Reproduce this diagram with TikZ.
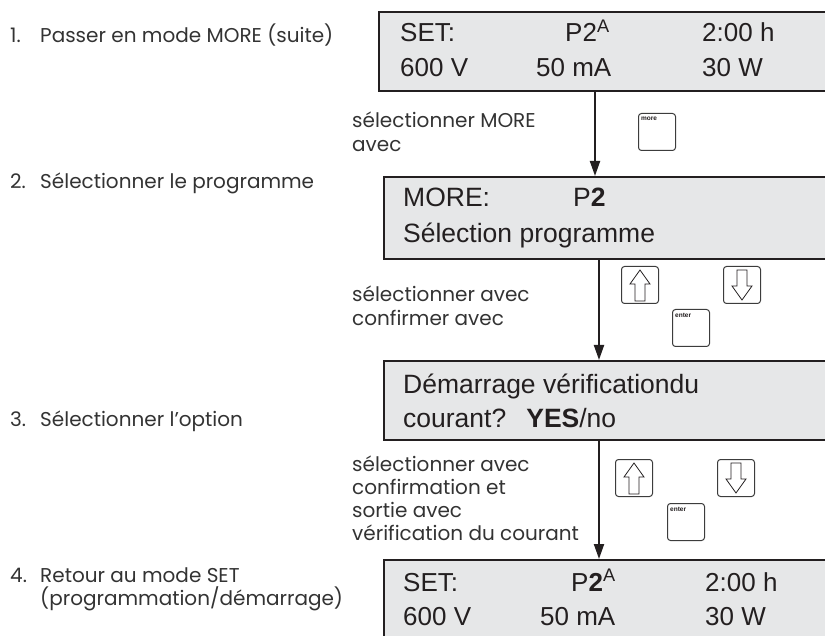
\documentclass[tikz,border=0pt]{standalone}
\usepackage{fontspec}
\setmainfont{Poppins}
\newfontfamily\lcdfont{Liberation Sans}
\usetikzlibrary{arrows.meta}
\definecolor{lcdgray}{HTML}{E6E7E8}
\definecolor{ink}{HTML}{231F20}
\definecolor{labelink}{HTML}{333333}
\definecolor{keyedge}{HTML}{3C3C3C}
\tikzset{
  lcdbox/.style={draw=ink, line width=2.4pt, fill=lcdgray, rectangle,
    anchor=north west, inner sep=0pt, minimum width=460pt},
  lcdtext/.style={anchor=base west, inner sep=0pt, text=ink,
    font=\lcdfont\fontsize{26}{30}\selectfont},
  lcdline/.style={lcdtext, font=\lcdfont\fontsize{26.5}{30}\selectfont},
  steplabel/.style={anchor=base west, inner sep=0pt, text=labelink,
    font=\fontsize{20}{23.3}\selectfont},
  flow/.style={draw=ink, line width=2pt,
    -{Triangle[length=15pt,width=10pt]}},
  keycap/.style={draw=keyedge, line width=1pt, fill=white, rounded corners=3pt,
    anchor=north west, minimum width=37pt, minimum height=37pt, inner sep=0pt},
  keytext/.style={anchor=north west, inner sep=0pt, text=ink,
    font=\lcdfont\bfseries\fontsize{6.5}{7}\selectfont},
  glyph/.style={draw=ink, line width=0.8pt, fill=white, line join=miter}
}
% hollow block arrows drawn inside the cursor keys
\newcommand{\uparrowkey}[1]{%
  \draw[glyph] ([shift={(19,4)}]#1.north west) -- ++(10,14) -- ++(-5,0) -- ++(0,17)
    -- ++(-10,0) -- ++(0,-17) -- ++(-5,0) -- cycle;}
\newcommand{\downarrowkey}[1]{%
  \draw[glyph] ([shift={(19,34)}]#1.north west) -- ++(10,-14) -- ++(-5,0) -- ++(0,-16)
    -- ++(-10,0) -- ++(0,16) -- ++(-5,0) -- cycle;}
\begin{document}
\begin{tikzpicture}[x=1pt,y=-1pt]
\useasboundingbox (0,0) rectangle (825,636);
\clip (0,0) rectangle (825,636);

% ---- step labels on the left
\node[steplabel] (n1) at (10,43) {1.};
\node[steplabel] (s1) at (40,43) {Passer en mode MORE (suite)};
\node[steplabel] (n2) at (10,189) {2.};
\node[steplabel] (s2) at (40,189) {Sélectionner le programme};
\node[steplabel] (n3) at (10,426) {3.};
\node[steplabel] (s3) at (40,426) {Sélectionner l’option};
\node[steplabel] (n4) at (10,582) {4.};
\node[steplabel] (s4) at (40,582) {\vtop{\hbox{Retour au mode SET}\hbox{(programmation/démarrage)}}};

% ---- display 1
\node[lcdbox, minimum height=79pt] (d1) at (378,11) {};
\node[lcdtext] (d1a) at (400,42) {SET:};
\node[lcdtext] (d1b) at (565,42) {P2\textsuperscript{A}};
\node[lcdtext] (d1c) at (702,42) {2:00 h};
\node[lcdtext] (d1d) at (400,77) {600 V};
\node[lcdtext] (d1e) at (536,77) {50 mA};
\node[lcdtext] (d1f) at (702,77) {30 W};

% ---- display 2
\node[lcdbox, minimum height=82pt] (d2) at (383,176) {};
\node[lcdline] (d2a) at (403,207) {MORE:};
\node[lcdline] (d2b) at (573,207) {P\textbf{2}};
\node[lcdline] (d2c) at (403,243) {Sélection programme};

% ---- display 3
\node[lcdbox, minimum height=79pt] (d3) at (383,360) {};
\node[lcdline] (d3a) at (403,394) {Démarrage vérificationdu};
\node[lcdline] (d3b) at (403,428) {courant?\hspace{20pt}\textbf{YES}/no};

% ---- display 4
\node[lcdbox, minimum height=90pt] (d4) at (383,559) {};
\node[lcdtext] (d4a) at (403,591) {SET:};
\node[lcdtext] (d4b) at (571,591) {P\textbf{2}\textsuperscript{A}};
\node[lcdtext] (d4c) at (705,591) {2:00 h};
\node[lcdtext] (d4d) at (403,625) {600 V};
\node[lcdtext] (d4e) at (540,625) {50 mA};
\node[lcdtext] (d4f) at (705,625) {30 W};

% ---- transitions
\coordinate (x1) at (595,0);
\coordinate (x2) at (599,0);
\draw[flow] (x1 |- d1.south) -- (x1 |- d2.north);
\draw[flow] (x2 |- d2.south) -- (x2 |- d3.north);
\draw[flow] (x2 |- d3.south) -- (x2 |- d4.north);

% ---- instructions beside the arrows
\node[steplabel] (t1) at (352,128) {\vtop{\hbox{sélectionner MORE}\hbox{avec}}};
\node[steplabel] (t2) at (352,302) {\vtop{\hbox{sélectionner avec}\hbox{confirmer avec}}};
\node[steplabel] (t3) at (352,471) {\vtop{\hbox{sélectionner avec}\hbox{confirmation et}\hbox{sortie avec}\hbox{vérification du courant}}};

% ---- keys
\node[keycap] (kmore) at (638,113) {};
\node[keytext] at ([shift={(3,4)}]kmore.north west) {more};

\node[keycap] (kup2) at (621,266) {};
\uparrowkey{kup2}
\node[keycap] (kdn2) at (723,266) {};
\downarrowkey{kdn2}
\node[keycap] (ken2) at (672,309) {};
\node[keytext] at ([shift={(3,4)}]ken2.north west) {enter};

\node[keycap] (kup3) at (615,459) {};
\uparrowkey{kup3}
\node[keycap] (kdn3) at (717,459) {};
\downarrowkey{kdn3}
\node[keycap] (ken3) at (667,503) {};
\node[keytext] at ([shift={(3,4)}]ken3.north west) {enter};
\end{tikzpicture}
\end{document}
